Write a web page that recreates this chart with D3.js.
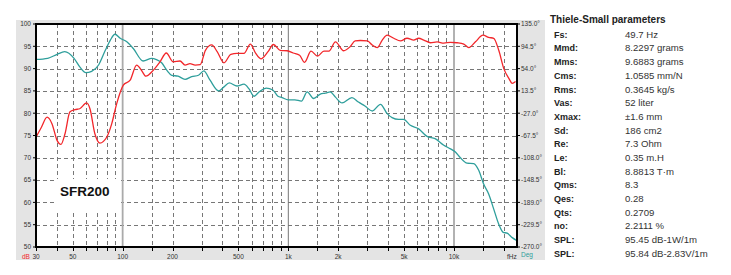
<!DOCTYPE html>
<html lang="en">
  <head>
    <meta charset="UTF-8" />
    <title>SFR200 frequency response</title>
    <script src="https://d3js.org/d3.v7.min.js"></script>
    <style>
      body {
        margin: 0;
        background: #fff;
        font-family: "Liberation Sans", Arial, sans-serif;
      }
      svg {
        display: block;
      }
    </style>
  </head>
  <body>
    <svg id="chart"></svg>
    <script>
      const WIDTH = 731;
      const HEIGHT = 275;

      // SPL curve (left axis, dB)
      const splFreq = [30, 32.4, 35, 37.5, 40.2, 42.4, 44.9, 48.1, 51.6, 55.1, 60.6, 63.5, 68, 72.9, 80.1, 85.9, 92, 101, 111, 121.5, 130, 138, 153, 168, 183.5, 202, 222, 238, 255, 274, 294, 316, 345, 372, 409, 450, 490, 540, 590, 636, 683, 754, 813, 893, 985, 1070, 1170, 1253, 1371, 1500, 1640, 1758, 1925, 2158, 2360, 2530, 2720, 3000, 3210, 3440, 3690, 3950, 4330, 4750, 5210, 5720, 6120, 6570, 7210, 7910, 8680, 9520, 10440, 11460, 12280, 13470, 14960, 16190, 17370, 18630, 19980, 21430, 22460, 23530];
      const splDb = [74.6, 76.9, 79.1, 77.6, 73.9, 73.0, 75.4, 80.3, 80.8, 81.0, 82.3, 81.0, 75.4, 73.3, 74.6, 77.6, 82.1, 86.3, 87.4, 90.8, 89.6, 88.3, 89.6, 91.5, 93.5, 91.5, 91.7, 90.8, 91.1, 90.8, 90.9, 94.1, 95.3, 93.8, 91.3, 93.2, 93.4, 93.4, 95.5, 93.4, 92.2, 93.8, 95.4, 94.1, 94.0, 93.5, 93.0, 91.4, 93.9, 92.8, 93.9, 93.9, 96.0, 94.0, 94.9, 96.2, 96.3, 96.2, 95.3, 94.7, 96.4, 97.5, 96.8, 96.2, 96.8, 96.4, 96.8, 96.4, 95.8, 96.0, 95.7, 95.9, 95.8, 95.5, 94.7, 96.0, 97.5, 97.0, 96.8, 94.1, 90.0, 87.8, 86.7, 87.1];

      // phase curve (right axis, degrees)
      const phaseFreq = [30, 35.3, 40.2, 44.7, 50.9, 55.1, 60, 65, 71.6, 78.6, 84.3, 89.8, 96.7, 106, 116, 133, 150, 160, 172, 185, 198, 216, 238, 261, 287, 309, 337, 380, 409, 440, 490, 540, 578, 620, 668, 736, 806, 866, 915, 1000, 1095, 1200, 1300, 1420, 1560, 1670, 1790, 1925, 2110, 2420, 2650, 2900, 3210, 3600, 3950, 4230, 4630, 4960, 5450, 6120, 6870, 7690, 8680, 9520, 10200, 10930, 11990, 13150, 14100, 15100, 16190, 17370, 18630, 19800, 20930, 22460, 24000];
      const phaseDeg = [70.6, 72.6, 79.9, 84.8, 72.6, 57.2, 46.7, 49.1, 60.5, 87.2, 105.8, 116.4, 109.1, 102.6, 90.5, 67.8, 72.6, 70.2, 64.5, 50.8, 41.9, 40.2, 34.6, 39.4, 41.9, 50.0, 32.9, 13.5, 20.8, 28.1, 22.4, 25.7, 17.6, 3.8, 11.9, 18.4, 15.1, 3.8, 1.4, -2.7, -2.7, -5.1, 11.9, -0.3, 7.8, 9.4, 11.9, 2.2, -8.4, 1.4, -6.8, -14, -23, -10.8, -27.8, -35.1, -38.3, -38.3, -48.9, -55.4, -69.1, -73.2, -85.3, -91.8, -97.5, -108, -117.7, -118.5, -130.7, -155.8, -173.6, -201.2, -228.7, -243.3, -244.9, -253, -258.7];

      const dbTicks = [100, 95, 90, 85, 80, 75, 70, 65, 60, 55, 50];
      const degTicks = [135, 94.5, 54, 13.5, -27, -67.5, -108, -148.5, -189, -229.5, -270];
      const freqGrid = [40, 50, 60, 70, 80, 90, 150, 200, 300, 400, 500, 600, 700, 800, 900, 1500, 2000, 3000, 4000, 5000, 6000, 7000, 8000, 9000, 15000, 20000];
      const freqDecades = [100, 1000, 10000];
      const freqLabels = [[30, "30"], [50, "50"], [100, "100"], [200, "200"], [500, "500"], [1000, "1k"], [2000, "2k"], [5000, "5k"], [10000, "10k"], [20000, "fHz"]];

      const paramNames = ["Fs:", "Mmd:", "Mms:", "Cms:", "Rms:", "Vas:", "Xmax:", "Sd:", "Re:", "Le:", "Bl:", "Qms:", "Qes:", "Qts:", "no:", "SPL:", "SPL:"];
      const paramValues = ["49.7 Hz", "8.2297 grams", "9.6883 grams", "1.0585 mm/N", "0.3645 kg/s", "52 liter", "\u00b11.6 mm", "186 cm2", "7.3 Ohm", "0.35 m.H", "8.8813 T\u00b7m", "8.3", "0.28", "0.2709", "2.2111 %", "95.45 dB-1W/1m", "95.84 dB-2.83V/1m"];

      const svg = d3.select("#chart").attr("width", WIDTH).attr("height", HEIGHT);

      const plotLeft = 36, plotRight = 517, plotTop = 24, plotBottom = 247;
      const x = d3.scaleLog().domain([30, 24000]).range([plotLeft, plotRight]);
      const yDb = d3.scaleLinear().domain([50, 100]).range([plotBottom, plotTop]);
      const yDeg = d3.scaleLinear().domain([-270, 135]).range([plotBottom, plotTop]);

      // grey panel and white plot area
      svg.append("rect").attr("x", 16).attr("y", 20).attr("width", 529).attr("height", 240).attr("fill", "#e4e4e4");
      svg.append("rect").attr("x", plotLeft).attr("y", plotTop).attr("width", plotRight - plotLeft).attr("height", plotBottom - plotTop).attr("fill", "#fff");

      const grid = svg.append("g").attr("stroke", "#777").attr("stroke-width", 1).attr("stroke-dasharray", "4,3").attr("shape-rendering", "crispEdges");
      grid.selectAll(".h").data(dbTicks.slice(1, -1)).enter().append("line")
        .attr("x1", plotLeft).attr("x2", plotRight)
        .attr("y1", (d) => Math.round(yDb(d)) + 0.5).attr("y2", (d) => Math.round(yDb(d)) + 0.5);
      grid.selectAll(".v").data(freqGrid).enter().append("line")
        .attr("x1", (d) => Math.round(x(d)) + 0.5).attr("x2", (d) => Math.round(x(d)) + 0.5)
        .attr("y1", plotTop).attr("y2", plotBottom);

      // white box behind the model name
      svg.append("rect").attr("x", 57).attr("y", 179).attr("width", 64).attr("height", 33).attr("fill", "#fff");

      svg.append("g").selectAll("line").data(freqDecades).enter().append("line")
        .attr("x1", (d) => x(d)).attr("x2", (d) => x(d))
        .attr("y1", plotTop).attr("y2", plotBottom)
        .attr("stroke", (d) => (d === 1000 ? "#777" : "#aaa"))
        .attr("stroke-width", (d) => (d === 1000 ? 1 : 1.8));

      svg.append("text").attr("x", 60).attr("y", 195.5)
        .attr("font-size", 13.5).attr("font-weight", "bold").attr("fill", "#111")
        .text("SFR200");

      // curves
      const splLine = d3.line().x((d, i) => x(splFreq[i])).y((d) => yDb(d)).curve(d3.curveMonotoneX);
      const phaseLine = d3.line().x((d, i) => x(phaseFreq[i])).y((d) => yDeg(d)).curve(d3.curveMonotoneX);

      svg.append("path").attr("d", phaseLine(phaseDeg)).attr("fill", "none")
        .attr("stroke", "#2e9e9b").attr("stroke-width", 1.3);
      svg.append("path").attr("d", splLine(splDb)).attr("fill", "none")
        .attr("stroke", "#f2262a").attr("stroke-width", 1.3);

      // frame
      const frame = svg.append("g").attr("stroke", "#000").attr("stroke-width", 2);
      frame.append("line").attr("x1", plotLeft - 1).attr("x2", plotRight + 1).attr("y1", plotTop).attr("y2", plotTop);
      frame.append("line").attr("x1", plotLeft - 1).attr("x2", plotRight + 1).attr("y1", plotBottom).attr("y2", plotBottom);
      frame.append("line").attr("x1", plotLeft).attr("x2", plotLeft).attr("y1", plotTop).attr("y2", plotBottom);
      frame.append("line").attr("x1", plotRight).attr("x2", plotRight).attr("y1", plotTop).attr("y2", plotBottom);

      // ticks and labels
      const ticks = svg.append("g").attr("stroke", "#000").attr("stroke-width", 1);
      ticks.selectAll(".bt").data([30].concat(freqGrid, freqDecades)).enter().append("line")
        .attr("x1", (d) => Math.round(x(d)) + 0.5).attr("x2", (d) => Math.round(x(d)) + 0.5)
        .attr("y1", plotBottom).attr("y2", plotBottom + 4);
      ticks.selectAll(".lt").data(dbTicks).enter().append("line")
        .attr("x1", plotLeft - 3).attr("x2", plotLeft)
        .attr("y1", (d) => yDb(d)).attr("y2", (d) => yDb(d));
      ticks.selectAll(".rt").data(degTicks).enter().append("line")
        .attr("x1", plotRight).attr("x2", plotRight + 3)
        .attr("y1", (d) => yDeg(d)).attr("y2", (d) => yDeg(d));

      const lab = svg.append("g").attr("font-size", 6.5).attr("fill", "#333");
      lab.selectAll(".ly").data(dbTicks).enter().append("text")
        .attr("x", 31).attr("y", (d) => yDb(d) + 2.3).attr("text-anchor", "end")
        .text((d) => d);
      lab.selectAll(".ry").data(degTicks).enter().append("text")
        .attr("x", 521).attr("y", (d) => yDeg(d) + 2.3)
        .text((d) => d.toFixed(1) + "\u00b0");
      lab.selectAll(".bx").data(freqLabels).enter().append("text")
        .attr("x", (d) => x(d[0]) + (d[1] === "fHz" ? 8 : 0)).attr("y", 258.5)
        .attr("text-anchor", "middle")
        .text((d) => d[1]);
      lab.append("text").attr("x", 22).attr("y", 258.5).attr("fill", "#f2262a").text("dB");
      lab.append("text").attr("x", 521).attr("y", 257).attr("fill", "#2e9e9b").text("Deg");

      // parameter table
      const table = svg.append("g");
      table.append("text").attr("x", 550).attr("y", 22.5)
        .attr("font-size", 10).attr("font-weight", "bold").attr("fill", "#222")
        .text("Thiele-Small parameters");
      table.selectAll(".pn").data(paramNames).enter().append("text")
        .attr("x", 554).attr("y", (d, i) => 37.8 + i * 13.69)
        .attr("font-size", 9).attr("font-weight", "bold").attr("fill", "#222")
        .text((d) => d);
      table.selectAll(".pv").data(paramValues).enter().append("text")
        .attr("x", 625).attr("y", (d, i) => 37.8 + i * 13.69)
        .attr("font-size", 9.6).attr("fill", "#333")
        .text((d) => d);
    </script>
  </body>
</html>
